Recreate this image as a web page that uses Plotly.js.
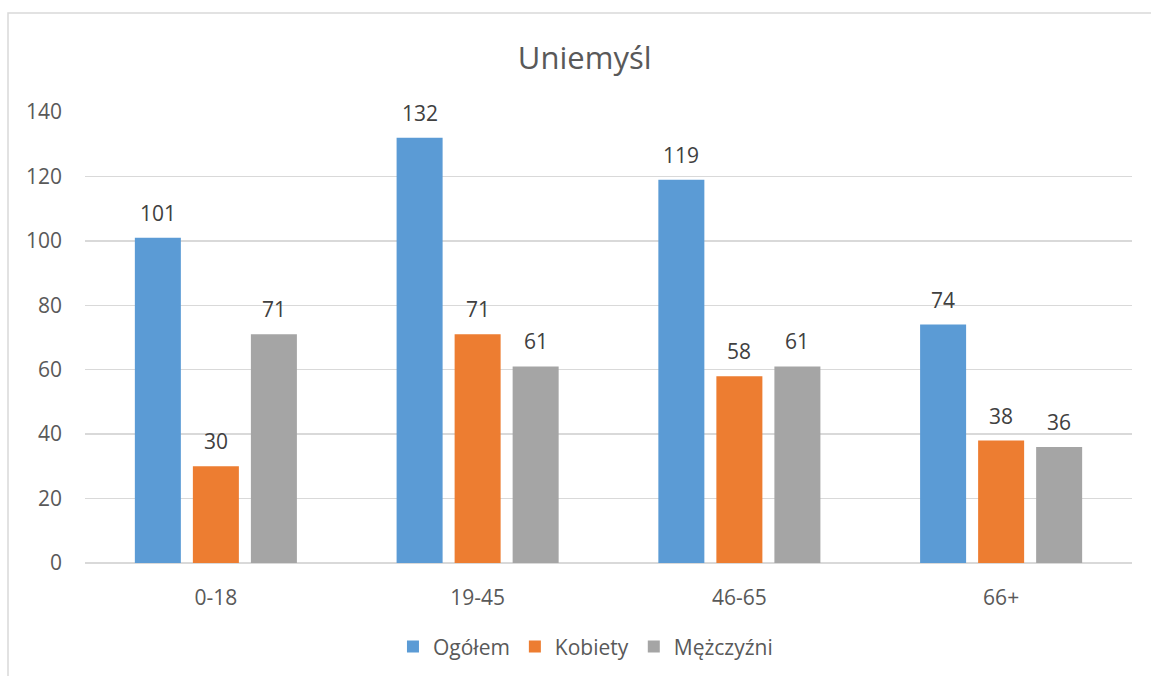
<!DOCTYPE html>
<html>
<head>
<meta charset="utf-8">
<script src="https://cdn.plot.ly/plotly-3.0.1.min.js"></script>
<style>html,body{margin:0;padding:0;background:#fff;}#chart{width:1151px;height:676px;}</style>
</head>
<body>
<div id="chart"></div>
<script>
const categories = ["0-18", "19-45", "46-65", "66+"];
const seriesNames = ["Ogółem", "Kobiety", "Mężczyźni"];
const ogolem = [101, 132, 119, 74];
const kobiety = [30, 71, 58, 38];
const mezczyzni = [71, 61, 61, 36];
const colors = ["#5b9bd5", "#ed7d31", "#a5a5a5"];
const chartTitle = "Uniemyśl";

const seriesValues = [ogolem, kobiety, mezczyzni];
const FONT = "'Open Sans', 'DejaVu Sans', sans-serif";
const bargap = 0.335;
const slot = (1 - bargap) / 3;

const traces = seriesValues.map((vals, i) => ({
  type: "bar",
  name: seriesNames[i],
  x: categories,
  y: vals,
  marker: {color: colors[i]},
  hoverinfo: "skip"
}));

const annotations = [];
seriesValues.forEach((vals, i) => {
  vals.forEach((v, j) => {
    annotations.push({
      x: j + (i - 1) * slot,
      y: v,
      xref: "x",
      yref: "y",
      text: String(v),
      showarrow: false,
      yanchor: "middle",
      yshift: 25,
      font: {family: FONT, size: 21, color: "#404040"}
    });
  });
});

const layout = {
  width: 1151,
  height: 676,
  margin: {l: 85, r: 19, t: 112, b: 113, autoexpand: false},
  paper_bgcolor: "#ffffff",
  plot_bgcolor: "#ffffff",
  barmode: "group",
  bargap: bargap,
  bargroupgap: 0.207,
  title: {
    text: chartTitle,
    x: 0.508,
    xref: "container",
    xanchor: "center",
    y: 0.914,
    yref: "container",
    yanchor: "middle",
    font: {family: FONT, size: 31, color: "#595959"}
  },
  xaxis: {
    type: "category",
    tickfont: {family: FONT, size: 21, color: "#595959"},
    showgrid: false,
    showline: false,
    zeroline: false,
    ticks: "",
    automargin: false,
    ticklabelstandoff: 20
  },
  yaxis: {
    range: [0, 140],
    dtick: 20,
    tick0: 0,
    tickfont: {family: FONT, size: 21, color: "#595959"},
    showgrid: true,
    gridcolor: "#d9d9d9",
    gridwidth: 1.5,
    zeroline: true,
    zerolinecolor: "#d9d9d9",
    zerolinewidth: 1.5,
    showline: false,
    ticks: "",
    automargin: false,
    ticklabelstandoff: 22
  },
  showlegend: true,
  legend: {
    orientation: "h",
    x: 0.478,
    xanchor: "center",
    y: -0.186,
    yanchor: "middle",
    font: {family: FONT, size: 21, color: "#595959"},
    itemwidth: 30,
    traceorder: "normal",
    bgcolor: "rgba(0,0,0,0)"
  },
  annotations: annotations,
  shapes: [{
    type: "rect",
    xref: "paper",
    yref: "paper",
    x0: (8 - 85) / 1047,
    x1: (1160 - 85) / 1047,
    y0: -0.5,
    y1: (563 - 13) / 451,
    line: {color: "#d9d9d9", width: 1.5},
    fillcolor: "rgba(0,0,0,0)",
    layer: "below"
  }]
};

Plotly.newPlot("chart", traces, layout, {displayModeBar: false, staticPlot: true});
</script>
</body>
</html>
